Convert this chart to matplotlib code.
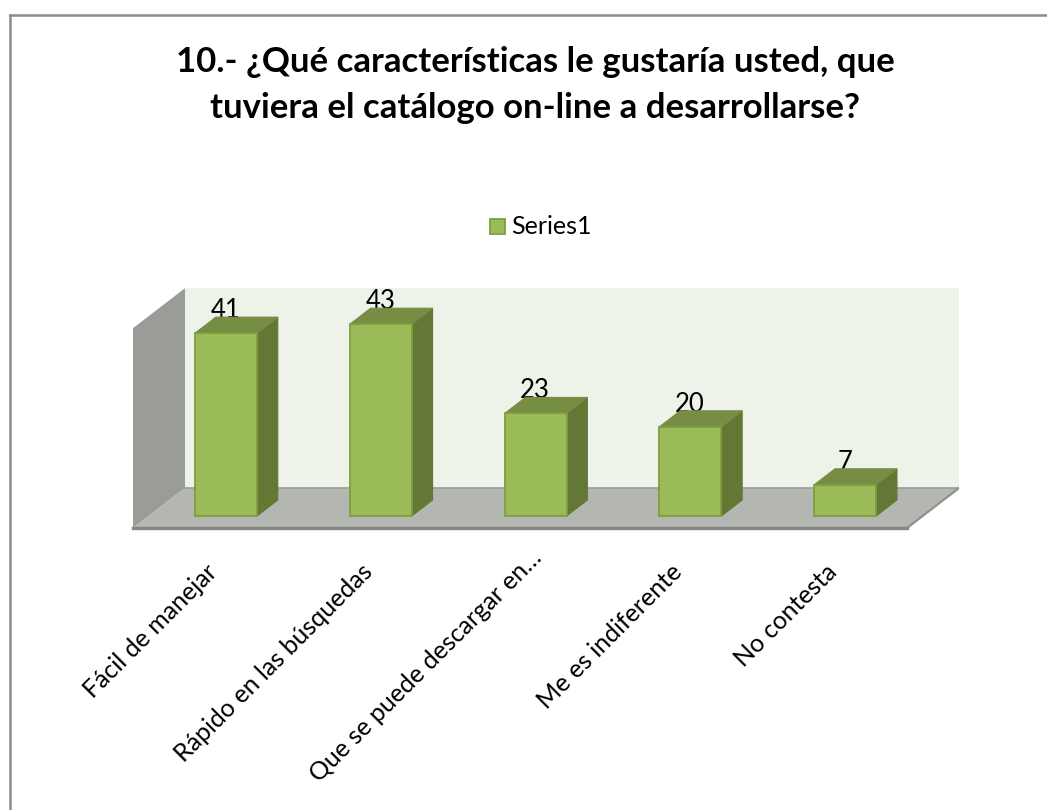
import matplotlib
matplotlib.use("Agg")
import matplotlib.pyplot as plt
from matplotlib.lines import Line2D
from matplotlib.patches import Polygon, Rectangle

plt.rcParams['font.family'] = ['Lato', 'DejaVu Sans']

title = "10.- ¿Qué características le gustaría usted, que\ntuviera el catálogo on-line a desarrollarse?"
categories = ["Fácil de manejar", "Rápido en las búsquedas", "Que se puede descargar en…",
              "Me es indiferente", "No contesta"]
values = [41, 43, 23, 20, 7]
series_name = "Series1"

W, H = 1047, 810
BAR_W = 0.4
WALL_TOP = 44.8
# one full step of depth, in data units
DX = 52 / 154.8
DY = 40 / 4.46


def pt(x, y, d=0.0):
    return (x + d * DX, y + d * DY)


fig = plt.figure(figsize=(W / 100, H / 100), dpi=100)
fig.patch.set_facecolor('white')

# chart border, the crop only keeps the top and left edges
fig.add_artist(Line2D([9.5 / W, 1], [1 - 14.5 / H, 1 - 14.5 / H], color='#8c8c8c', lw=1.8))
fig.add_artist(Line2D([9.5 / W, 9.5 / W], [0, 1 - 14.5 / H], color='#8c8c8c', lw=1.8))

ax = fig.add_axes([133 / W, 1 - 528 / H, 826 / W, 240 / H])
ax.set_xlim(-0.5, -0.5 + 826 / 154.8)
ax.set_ylim(0, 240 / 4.46)
ax.axis('off')

x0, x1 = -0.5, 4.5

# back wall, side wall, floor
ax.add_patch(Polygon([pt(x0, 0, 1), pt(x1, 0, 1), pt(x1, WALL_TOP, 1), pt(x0, WALL_TOP, 1)],
                     facecolor='#eef3ea', edgecolor='none', zorder=1))
ax.add_patch(Polygon([pt(x0, 0, 0), pt(x0, 0, 1), pt(x0, WALL_TOP, 1), pt(x0, WALL_TOP, 0)],
                     facecolor='#9a9c98', edgecolor='none', zorder=2))
ax.add_patch(Polygon([pt(x0, 0, 0), pt(x1, 0, 0), pt(x1, 0, 1), pt(x0, 0, 1)],
                     facecolor='#b4b6b2', edgecolor='none', zorder=2))
ax.plot(*zip(pt(x0, 0, 1), pt(x1, 0, 1)), color='#9a9c98', lw=1.2, zorder=3)
ax.plot(*zip(pt(x1, 0, 0), pt(x1, 0, 1)), color='#8f918d', lw=1.6, zorder=3)
ax.plot(*zip(pt(x0, 0, 0), pt(x1, 0, 0)), color='#858585', lw=2.4, zorder=3, clip_on=False)

# bars: front face sits 0.3 into the depth, back face at 0.7
for i, v in enumerate(values):
    l, r = i - BAR_W / 2, i + BAR_W / 2
    ax.add_patch(Polygon([pt(r, 0, 0.3), pt(r, 0, 0.7), pt(r, v, 0.7), pt(r, v, 0.3)],
                         facecolor='#647835', edgecolor='#647835', lw=0.8, zorder=4))
    ax.add_patch(Polygon([pt(l, v, 0.3), pt(r, v, 0.3), pt(r, v, 0.7), pt(l, v, 0.7)],
                         facecolor='#778d43', edgecolor='#778d43', lw=0.8, zorder=4))
    ax.add_patch(Polygon([pt(l, 0, 0.3), pt(r, 0, 0.3), pt(r, v, 0.3), pt(l, v, 0.3)],
                         facecolor='#9bbb59', edgecolor='#7f9e3f', lw=1.3, zorder=5))
    tx, ty = pt(i, v, 0.5)
    ax.text(tx - 0.07, ty + 0.5, str(v), ha='center', va='bottom', fontsize=18.5, color='black', zorder=3.5)
    # category label, rotated, ends under the bar
    lx, ly = pt(i, 0, 0)
    off = (10, -18) if categories[i].endswith("…") else (-5, -32)  # truncated label sits closer
    ax.annotate(categories[i], xy=(lx, ly), xytext=off, textcoords='offset pixels',
                rotation=45, rotation_mode='anchor', ha='right', va='top',
                fontsize=18, color='black', annotation_clip=False)

fig.text(535 / W, 1 - 85 / H, title, ha='center', va='center', fontsize=25, fontweight='bold',
         color='black', linespacing=1.5)

# legend
fig.add_artist(Rectangle((490 / W, 1 - 234 / H), 15 / W, 15 / H, transform=fig.transFigure,
                         facecolor='#9bbb59', edgecolor='#7f9e3f', linewidth=1.3))
fig.text(511 / W, 1 - 227 / H, series_name, ha='left', va='center', fontsize=18, color='black')

fig.savefig('out.png', dpi=100)
